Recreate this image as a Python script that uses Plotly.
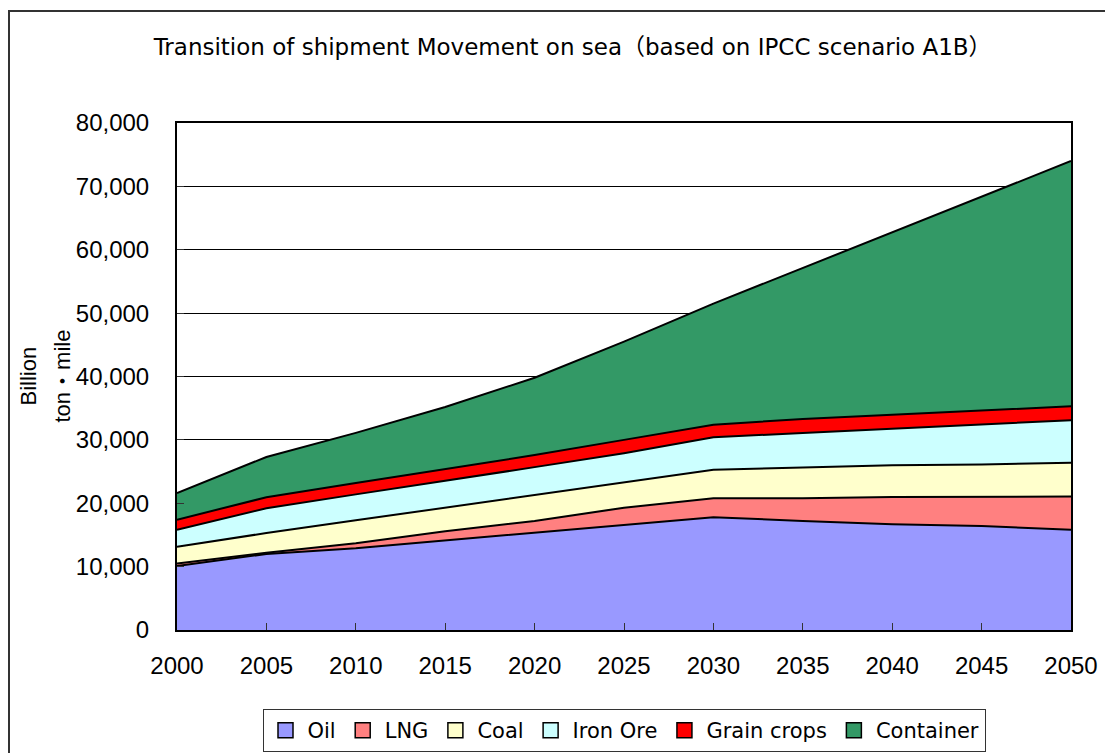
import plotly.graph_objects as go

years = [2000, 2005, 2010, 2015, 2020, 2025, 2030, 2035, 2040, 2045, 2050]
oil = [10100, 12000, 12900, 14100, 15400, 16600, 17800, 17200, 16700, 16400, 15800]
lng = [400, 200, 800, 1500, 1800, 2700, 3000, 3600, 4300, 4600, 5250]
coal = [2650, 3100, 3600, 3700, 4100, 3900, 4500, 4850, 5000, 5100, 5350]
iron_ore = [2650, 3900, 4100, 4200, 4400, 4700, 5100, 5450, 5800, 6300, 6700]
grain = [1600, 1750, 1800, 1900, 1900, 2100, 2000, 2200, 2200, 2300, 2200]
container = [4200, 6350, 7900, 9800, 12200, 15500, 19100, 23850, 28750, 33650, 38700]

series = [
    ("Oil", oil, "#9999FF"),
    ("LNG", lng, "#FF8080"),
    ("Coal", coal, "#FFFFCC"),
    ("Iron Ore", iron_ore, "#CCFFFF"),
    ("Grain crops", grain, "#FF0000"),
    ("Container", container, "#339966"),
]

fig = go.Figure()
for name, vals, color in series:
    fig.add_trace(go.Scatter(
        x=years, y=vals, name=name, mode="lines",
        stackgroup="one", fillcolor=color, showlegend=False,
        line=dict(color="black", width=2),
    ))
# legend entries with square swatches
for name, vals, color in series:
    fig.add_trace(go.Scatter(
        x=[None], y=[None], name=name, mode="markers",
        marker=dict(symbol="square", size=15, color=color,
                    line=dict(color="black", width=1.5)),
    ))

tick_font = dict(family="Liberation Sans, Arial, sans-serif", size=24, color="black")

W, H = 1105, 745
fig.update_layout(
    width=W, height=H,
    margin=dict(l=169, r=42, t=115, b=123),
    paper_bgcolor="white", plot_bgcolor="white",
    title=dict(
        text="Transition of shipment Movement on sea（based on IPCC scenario A1B）",
        x=0.511, xanchor="center", y=1 - 39 / H, yanchor="middle",
        font=dict(family="DejaVu Sans, Noto Sans CJK JP, sans-serif", size=23, color="black"),
    ),
    xaxis=dict(
        range=[2000, 2050], dtick=5, tick0=2000, showgrid=False,
        ticks="inside", ticklen=7, tickcolor="#333", tickwidth=1,
        showline=True, linecolor="black", linewidth=2, mirror=True,
        tickfont=tick_font, ticklabelstandoff=13,
    ),
    yaxis=dict(
        range=[0, 80000], dtick=10000, tickformat=",",
        showgrid=True, gridcolor="black", gridwidth=1,
        ticks="inside", ticklen=7, tickcolor="#333", tickwidth=1,
        showline=True, linecolor="black", linewidth=2, mirror=True,
        tickfont=tick_font, ticklabelstandoff=21, zeroline=False,
    ),
    showlegend=True,
    legend=dict(
        orientation="h", x=0.5, xanchor="center",
        yref="container", y=1 - 701 / H, yanchor="top",
        bordercolor="#333", borderwidth=1, bgcolor="white",
        font=dict(family="DejaVu Sans, Noto Sans CJK JP, sans-serif", size=21, color="black"),
        traceorder="normal", itemwidth=34,
    ),
    annotations=[
        dict(text="Billion", x=-149 / 894, y=0.5, xref="paper", yref="paper",
             textangle=-90, showarrow=False, xanchor="center", yanchor="middle",
             font=dict(family="Liberation Sans, Arial, sans-serif", size=22, color="black")),
        dict(text="ton・mile", x=-115 / 894, y=0.5, xref="paper", yref="paper",
             textangle=-90, showarrow=False, xanchor="center", yanchor="middle",
             font=dict(family="Liberation Sans, Noto Sans CJK JP, sans-serif", size=22, color="black")),
    ],
    shapes=[
        dict(type="rect", xref="paper", yref="paper",
             x0=-168 / 894, x1=1.2, y0=-0.4, y1=(622 - 3) / 507,
             line=dict(color="#333", width=2), fillcolor="rgba(0,0,0,0)", layer="below"),
    ],
)

fig.write_html("out.html")
